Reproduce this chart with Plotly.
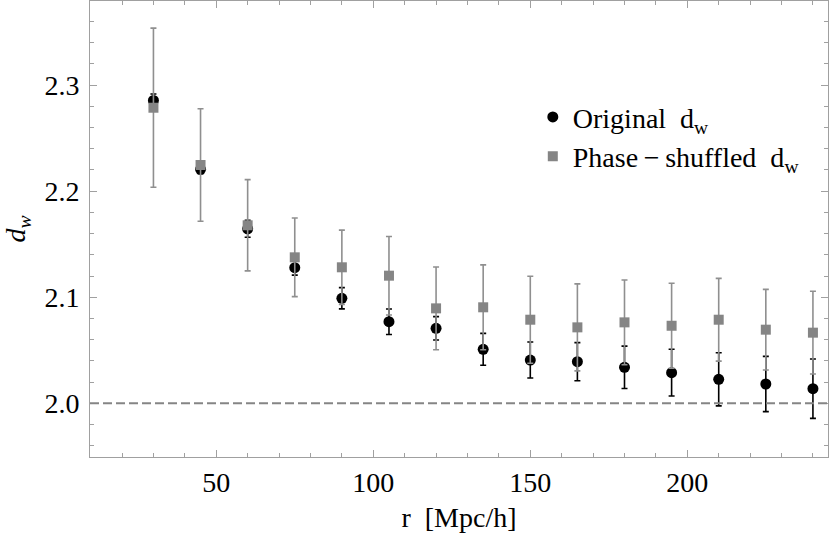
import plotly.graph_objects as go

# radial scale r [Mpc/h]
r = [30, 45, 60, 75, 90, 105, 120, 135, 150, 165, 180, 195, 210, 225, 240]

# original d_w and its errors
dw_orig = [2.2855, 2.2205, 2.1645, 2.1278, 2.0990, 2.0769, 2.0707, 2.0509, 2.0408,
           2.0392, 2.0339, 2.0289, 2.0226, 2.0182, 2.0138]
err_orig = [0.006, 0.004, 0.008, 0.007, 0.010, 0.012, 0.011, 0.015, 0.017,
            0.018, 0.020, 0.022, 0.025, 0.026, 0.028]

# phase-shuffled d_w and its errors
dw_shuf = [2.2786, 2.2246, 2.1678, 2.1376, 2.1282, 2.1203, 2.0895, 2.0905, 2.0788,
           2.0716, 2.0763, 2.0731, 2.0788, 2.0694, 2.0666]
err_shuf = [0.075, 0.053, 0.043, 0.037, 0.035, 0.037, 0.039, 0.040, 0.041,
            0.041, 0.040, 0.040, 0.039, 0.038, 0.039]

baseline = 2.0

FONT = "Liberation Serif"
FS = 28
FRAME = "#a0a0a0"

fig = go.Figure()

fig.add_trace(go.Scatter(
    x=r, y=dw_orig,
    mode="markers",
    name="Original\u2002d<sub>w</sub>",
    legendgroup="orig",
    marker=dict(symbol="circle", size=11, color="black"),
    error_y=dict(type="data", array=err_orig, color="black", thickness=1.6, width=3),
))

fig.add_trace(go.Scatter(
    x=r, y=dw_shuf,
    mode="markers",
    name="Phase\u2009\u2212\u2009shuffled\u2002d<sub>w</sub>",
    legendgroup="shuf",
    marker=dict(symbol="square", size=10, color="#858585"),
    error_y=dict(type="data", array=err_shuf, color="#8f8f8f", thickness=1.6, width=3),
))

fig.add_hline(y=baseline, line=dict(color="#858585", width=2, dash="9px,4px"))

axis_common = dict(
    showline=True, linecolor=FRAME, linewidth=1, mirror="allticks",
    ticks="inside", ticklen=7, tickcolor=FRAME, tickwidth=1,
    showgrid=False, zeroline=False, automargin=False,
    tickfont=dict(family=FONT, size=FS, color="black"),
)

fig.update_xaxes(
    range=[9.8, 244.8], tickvals=[50, 100, 150, 200],
    minor=dict(dtick=10, tick0=0, ticks="inside", ticklen=4, tickcolor=FRAME),
    title=dict(text="r\u2002[Mpc/h]", font=dict(family=FONT, size=FS, color="black"), standoff=10),
    **axis_common,
)
fig.update_yaxes(
    range=[1.9494, 2.3792], tickvals=[2.0, 2.1, 2.2, 2.3], tickformat=".1f",
    minor=dict(dtick=0.02, tick0=2.0, ticks="inside", ticklen=4, tickcolor=FRAME),
    ticklabelstandoff=4,
    title=dict(text="<i>d<sub>w</sub></i>", font=dict(family=FONT, size=FS, color="black"), standoff=10),
    **axis_common,
)

fig.update_layout(
    width=830, height=542,
    margin=dict(l=90, r=2, t=1, b=85),
    plot_bgcolor="white", paper_bgcolor="white",
    showlegend=True,
    legend=dict(
        x=0.600, y=0.80, xanchor="left", yanchor="top",
        font=dict(family=FONT, size=FS, color="black"),
        bgcolor="rgba(0,0,0,0)", tracegroupgap=0,
    ),
)

# drop the browser's default 8px body margin so the figure sits at the page corner
fig.write_html("out.html", config={"displayModeBar": False},
               post_script="document.body.style.margin='0px';")
